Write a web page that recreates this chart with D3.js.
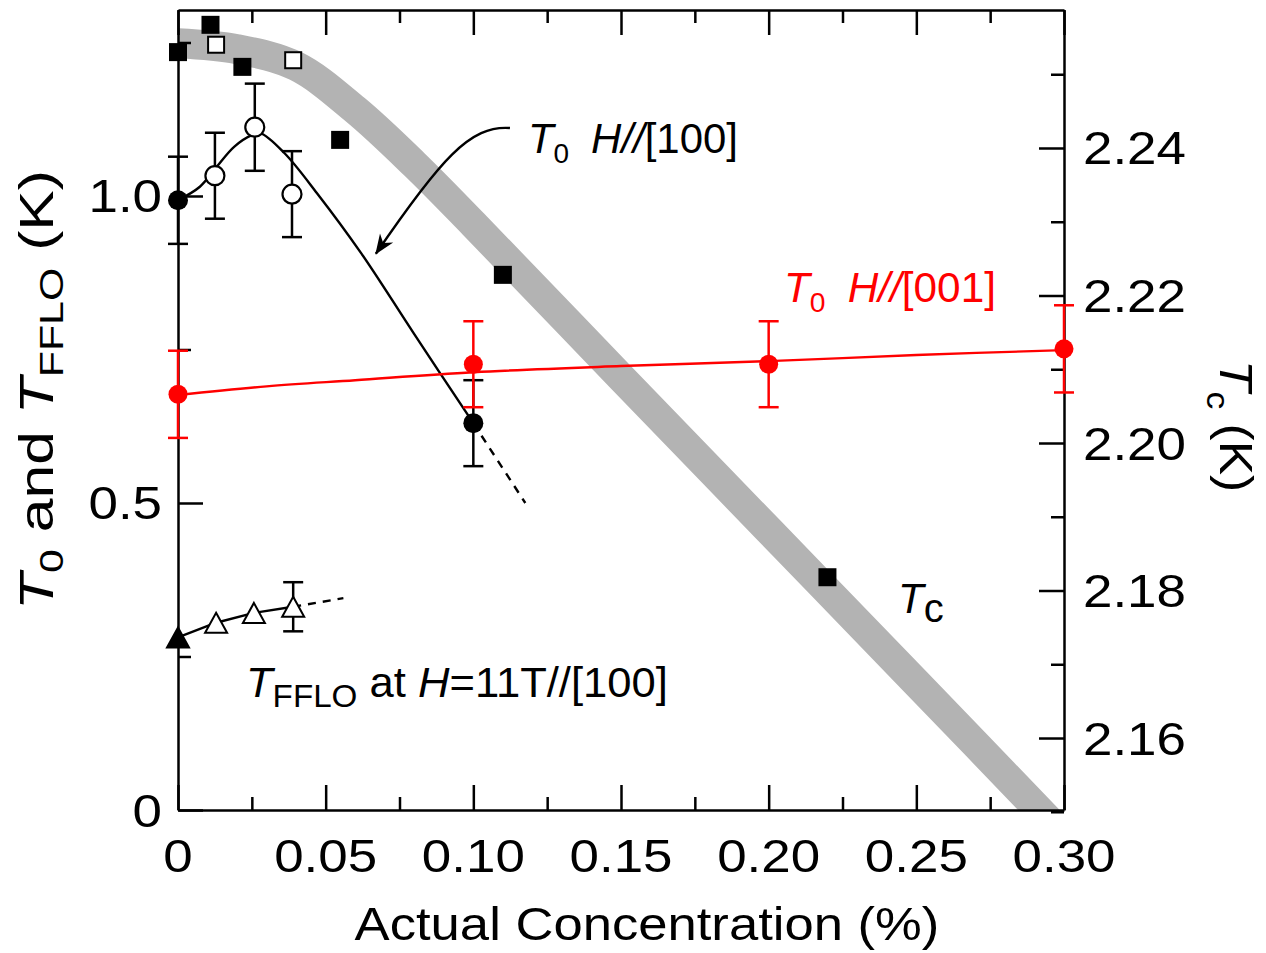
<!DOCTYPE html>
<html><head><meta charset="utf-8">
<script src="https://cdn.jsdelivr.net/npm/d3@7"></script>
<style>
body{margin:0;background:#fff}
svg{display:block}
text{font-family:"Liberation Sans",Arial,Helvetica,sans-serif}
</style>
</head><body>
<svg id="chart" width="1266" height="953"></svg>
<script>
// ---------------- data ----------------
const xTicksMajor = [0, 0.05, 0.10, 0.15, 0.20, 0.25, 0.30];
const xTickLabels = ["0", "0.05", "0.10", "0.15", "0.20", "0.25", "0.30"];
const xTicksMinor = [0.025, 0.075, 0.125, 0.175, 0.225, 0.275];
const leftTicksMajor = [0, 0.5, 1.0];
const leftTickLabels = ["0", "0.5", "1.0"];
const leftTicksMinor = [0.25, 0.75, 1.25];
const rightTicksMajor = [2.16, 2.18, 2.20, 2.22, 2.24];
const rightTickLabels = ["2.16", "2.18", "2.20", "2.22", "2.24"];
const rightTicksMinor = [2.15, 2.17, 2.19, 2.21, 2.23, 2.25];

// Tc (right axis) : gray band and squares
const tcBandConc = [0, 0.02, 0.04, 0.06, 0.08, 0.10, 0.15, 0.20, 0.25, 0.30];
const tcBandVal  = [2.2542, 2.2534, 2.2511, 2.2452, 2.2378, 2.2297, 2.2089, 2.1882, 2.1675, 2.1467];
const tcFilledConc = [0, 0.011, 0.0218, 0.0549, 0.110, 0.2199];
const tcFilledVal  = [2.2530, 2.2567, 2.2510, 2.2411, 2.2228, 2.1818];
const tcOpenConc = [0.0129, 0.039];
const tcOpenVal  = [2.2540, 2.2519];

// T0 H//[100] (left axis)
const t100Conc   = [0, 0.0125, 0.026, 0.0386, 0.10];
const t100Val    = [0.993, 1.033, 1.112, 1.003, 0.630];
const t100Err    = [0.071, 0.070, 0.071, 0.070, 0.070];
const t100Filled = [true, false, false, false, true];
const t100CurveConc = [0, 0.0074, 0.013, 0.019, 0.025, 0.028, 0.036, 0.047, 0.062, 0.080, 0.10];
const t100CurveVal  = [0.993, 1.015, 1.047, 1.080, 1.099, 1.102, 1.070, 1.005, 0.907, 0.775, 0.630];
const t100DashConc = [0.10, 0.1176];
const t100DashVal  = [0.630, 0.500];

// T0 H//[001] (left axis, red)
const t001Conc = [0, 0.10, 0.20, 0.30];
const t001Val  = [0.677, 0.726, 0.726, 0.751];
const t001Err  = [0.071, 0.070, 0.070, 0.071];
const t001CurveConc = [0, 0.03, 0.06, 0.10, 0.15, 0.20, 0.25, 0.30];
const t001CurveVal  = [0.676, 0.690, 0.700, 0.713, 0.723, 0.731, 0.741, 0.749];

// T_FFLO at H=11T//[100]
const ffloConc   = [0, 0.0129, 0.0257, 0.039];
const ffloVal    = [0.281, 0.305, 0.321, 0.331];
const ffloErr    = [0, 0, 0, 0.040];
const ffloFilled = [true, false, false, false];
const ffloDashConc = [0.039, 0.056];
const ffloDashVal  = [0.331, 0.345];

// annotation arrow (data units, left axis)
const arrowConc = [0.1124, 0.0989, 0.0887, 0.0670];
const arrowVal  = [1.1107, 1.1156, 1.0586, 0.906];

// ---------------- scales ----------------
const svg = d3.select("#chart");
const L = 178, R = 1064, T = 10, B = 810;
const x  = d3.scaleLinear().domain([0, 0.30]).range([L, R]);
const yL = d3.scaleLinear().domain([0, 1.3029]).range([B, T]);
const yR = d3.scaleLinear().domain([2.15024, 2.25871]).range([B, T]);

svg.append("defs").append("clipPath").attr("id", "plotclip")
  .append("rect").attr("x", L).attr("y", T).attr("width", R - L).attr("height", B - T);

const marker = svg.select("defs").append("marker")
  .attr("id", "arrowhead").attr("markerUnits", "userSpaceOnUse")
  .attr("viewBox", "-20 -10 22 20").attr("refX", 0).attr("refY", 0)
  .attr("markerWidth", 22).attr("markerHeight", 20).attr("orient", "auto");
marker.append("path").attr("d", "M1,0 L-19,-8 L-13,0 L-19,8 Z").attr("fill", "#000");

// ---------------- Tc band ----------------
const bandLine = d3.line().x(d => x(d[0])).y(d => yR(d[1])).curve(d3.curveCatmullRom.alpha(0.5));
svg.append("path")
  .datum(tcBandConc.map((c, i) => [c, tcBandVal[i]]))
  .attr("clip-path", "url(#plotclip)")
  .attr("d", bandLine)
  .attr("fill", "none").attr("stroke", "#b3b3b3").attr("stroke-width", 30);

// ---------------- curves ----------------
svg.append("path")
  .datum(t100CurveConc.map((c, i) => [c, t100CurveVal[i]]))
  .attr("d", d3.line().x(d => x(d[0])).y(d => yL(d[1])).curve(d3.curveCatmullRom))
  .attr("fill", "none").attr("stroke", "#000").attr("stroke-width", 2.4);
svg.append("path")
  .datum(t100DashConc.map((c, i) => [c, t100DashVal[i]]))
  .attr("d", d3.line().x(d => x(d[0])).y(d => yL(d[1])))
  .attr("fill", "none").attr("stroke", "#000").attr("stroke-width", 2.4)
  .attr("stroke-dasharray", "8,7");

svg.append("path")
  .datum(t001CurveConc.map((c, i) => [c, t001CurveVal[i]]))
  .attr("d", d3.line().x(d => x(d[0])).y(d => yL(d[1])).curve(d3.curveCatmullRom))
  .attr("fill", "none").attr("stroke", "#ff0000").attr("stroke-width", 2.4);

svg.append("path")
  .datum(ffloConc.map((c, i) => [c, ffloVal[i]]))
  .attr("d", d3.line().x(d => x(d[0])).y(d => yL(d[1])))
  .attr("fill", "none").attr("stroke", "#000").attr("stroke-width", 2.4);
svg.append("path")
  .datum(ffloDashConc.map((c, i) => [c, ffloDashVal[i]]))
  .attr("d", d3.line().x(d => x(d[0])).y(d => yL(d[1])))
  .attr("fill", "none").attr("stroke", "#000").attr("stroke-width", 2.4)
  .attr("stroke-dasharray", "8,7");

// arrow
const ap = arrowConc.map((c, i) => [x(c), yL(arrowVal[i])]);
svg.append("path")
  .attr("d", `M${ap[0][0]},${ap[0][1]} C${ap[1][0]},${ap[1][1]} ${ap[2][0]},${ap[2][1]} ${ap[3][0]},${ap[3][1]}`)
  .attr("fill", "none").attr("stroke", "#000").attr("stroke-width", 2.4)
  .attr("marker-end", "url(#arrowhead)");

// ---------------- axes ----------------
function styleAxis(g, keepDomain) {
  g.selectAll("line").attr("stroke", "#000").attr("stroke-width", 2.5);
  g.selectAll("path.domain").attr("stroke", "#000").attr("stroke-width", 2.5);
  if (!keepDomain) g.select(".domain").remove();
  g.selectAll("text").remove();
}
const fmtNone = () => "";
[[d3.axisBottom(x).tickValues(xTicksMajor), B, true, 25],
 [d3.axisBottom(x).tickValues(xTicksMinor), B, false, 13],
 [d3.axisTop(x).tickValues(xTicksMajor), T, true, 25],
 [d3.axisTop(x).tickValues(xTicksMinor), T, false, 13]].forEach(([ax, ty, dom, len]) => {
  const g = svg.append("g").attr("transform", `translate(0,${ty})`)
    .call(ax.tickSizeInner(-len).tickSizeOuter(0).tickFormat(fmtNone));
  styleAxis(g, dom);
});
[[d3.axisLeft(yL).tickValues(leftTicksMajor), L, true, 25],
 [d3.axisLeft(yL).tickValues(leftTicksMinor), L, false, 13],
 [d3.axisRight(yR).tickValues(rightTicksMajor), R, true, 25],
 [d3.axisRight(yR).tickValues(rightTicksMinor), R, false, 13]].forEach(([ax, tx, dom, len]) => {
  const g = svg.append("g").attr("transform", `translate(${tx},0)`)
    .call(ax.tickSizeInner(-len).tickSizeOuter(0).tickFormat(fmtNone));
  styleAxis(g, dom);
});

// ---------------- text helper ----------------
function richText(parent, px, py, rot, parts, opts) {
  opts = opts || {};
  const g = parent.append("g").attr("transform", `translate(${px},${py}) rotate(${rot})`);
  const t = g.append("text").attr("text-anchor", opts.anchor || "start")
    .attr("fill", opts.fill || "#000").style("white-space", "pre");
  let cur = 0;
  parts.forEach(p => {
    const ts = t.append("tspan").text(p.t).attr("font-size", p.size)
      .attr("font-style", p.italic ? "italic" : "normal");
    const s = p.shift || 0;
    if (s !== cur) ts.attr("dy", s - cur);
    if (p.dx) ts.attr("dx", p.dx);
    cur = s;
  });
  let sx = opts.sx || 1, sy = opts.sy || 1;
  if (opts.len) sx = opts.len / t.node().getBBox().width;
  t.attr("transform", `scale(${sx},${sy})`);
  return g;
}

// tick labels
xTicksMajor.forEach((v, i) => richText(svg, x(v), 872, 0, [{t: xTickLabels[i], size: 46}], {anchor: "middle", sx: 1.15}));
leftTicksMajor.forEach((v, i) => richText(svg, 162, yL(v) + 16.5, 0, [{t: leftTickLabels[i], size: 46}], {anchor: "end", sx: 1.15}));
rightTicksMajor.forEach((v, i) => richText(svg, 1083, yR(v) + 16.5, 0, [{t: rightTickLabels[i], size: 46}], {anchor: "start", sx: 1.15}));

// axis titles
richText(svg, 647, 940, 0, [{t: "Actual Concentration (%)", size: 46}], {anchor: "middle", len: 585});
richText(svg, 53, 390, -90, [
  {t: "T", size: 48, italic: true},
  {t: "0", size: 34, shift: 10},
  {t: " and ", size: 48},
  {t: "T", size: 48, italic: true},
  {t: "FFLO", size: 34, shift: 10},
  {t: " (K)", size: 48}
], {anchor: "middle", len: 440});
richText(svg, 1220, 426, 90, [
  {t: "T", size: 46, italic: true},
  {t: "c", size: 32, shift: 13},
  {t: " (K)", size: 46}
], {anchor: "middle", len: 132});

// annotations
richText(svg, 528, 153, 0, [
  {t: "T", size: 42, italic: true},
  {t: "0", size: 28, shift: 10},
  {t: "H//", size: 42, italic: true, dx: 22},
  {t: "[100]", size: 42}
], {len: 210});
richText(svg, 784, 302, 0, [
  {t: "T", size: 42, italic: true},
  {t: "0", size: 28, shift: 10},
  {t: "H//", size: 42, italic: true, dx: 22},
  {t: "[001]", size: 42}
], {len: 212, fill: "#ff0000"});
richText(svg, 246, 697, 0, [
  {t: "T", size: 42, italic: true},
  {t: "FFLO", size: 32, shift: 10},
  {t: " at ", size: 42},
  {t: "H", size: 42, italic: true},
  {t: "=11T//[100]", size: 42}
], {len: 422});
richText(svg, 898, 613, 0, [
  {t: "T", size: 42, italic: true},
  {t: "c", size: 40, shift: 9}
], {});

// ---------------- error bars ----------------
function errBars(conc, val, err, color) {
  conc.forEach((c, i) => {
    if (!err[i]) return;
    const cx = x(c), y1 = yL(val[i] + err[i]), y2 = yL(val[i] - err[i]);
    const g = svg.append("g").attr("stroke", color).attr("stroke-width", 2.5);
    g.append("line").attr("x1", cx).attr("x2", cx).attr("y1", y1).attr("y2", y2);
    g.append("line").attr("x1", cx - 10).attr("x2", cx + 10).attr("y1", y1).attr("y2", y1);
    g.append("line").attr("x1", cx - 10).attr("x2", cx + 10).attr("y1", y2).attr("y2", y2);
  });
}
errBars(t100Conc, t100Val, t100Err, "#000");
errBars(t001Conc, t001Val, t001Err, "#ff0000");
errBars(ffloConc, ffloVal, ffloErr, "#000");

// ---------------- markers ----------------
const sq = 18;
svg.selectAll(".sqf").data(tcFilledConc.map((c, i) => [c, tcFilledVal[i]])).enter()
  .append("rect").attr("x", d => x(d[0]) - sq / 2).attr("y", d => yR(d[1]) - sq / 2)
  .attr("width", sq).attr("height", sq).attr("fill", "#000");
svg.selectAll(".sqo").data(tcOpenConc.map((c, i) => [c, tcOpenVal[i]])).enter()
  .append("rect").attr("x", d => x(d[0]) - sq / 2 + 1).attr("y", d => yR(d[1]) - sq / 2 + 1)
  .attr("width", sq - 2).attr("height", sq - 2).attr("fill", "#fff").attr("stroke", "#000").attr("stroke-width", 2);

svg.selectAll(".c100").data(t100Conc.map((c, i) => [c, t100Val[i], t100Filled[i]])).enter()
  .append("circle").attr("cx", d => x(d[0])).attr("cy", d => yL(d[1])).attr("r", d => d[2] ? 10 : 9.5)
  .attr("fill", d => d[2] ? "#000" : "#fff").attr("stroke", "#000").attr("stroke-width", d => d[2] ? 0 : 2.2);

svg.selectAll(".c001").data(t001Conc.map((c, i) => [c, t001Val[i]])).enter()
  .append("circle").attr("cx", d => x(d[0])).attr("cy", d => yL(d[1])).attr("r", 9.5)
  .attr("fill", "#ff0000");

const triW = 22, triH = 20;
svg.selectAll(".tri").data(ffloConc.map((c, i) => [c, ffloVal[i], ffloFilled[i]])).enter()
  .append("path")
  .attr("d", d => {
    const cx = x(d[0]), cy = yL(d[1]);
    return `M${cx},${cy - triH / 2} L${cx + triW / 2},${cy + triH / 2} L${cx - triW / 2},${cy + triH / 2} Z`;
  })
  .attr("fill", d => d[2] ? "#000" : "#fff").attr("stroke", "#000").attr("stroke-width", 2);
</script>
</body></html>
